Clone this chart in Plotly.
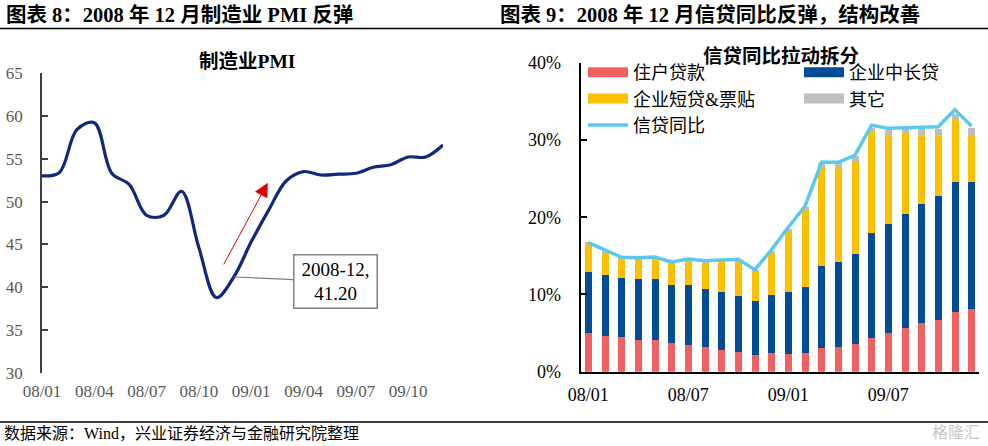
import plotly.graph_objects as go

# ---------------- data ----------------
months = ["08/01", "08/02", "08/03", "08/04", "08/05", "08/06", "08/07", "08/08",
          "08/09", "08/10", "08/11", "08/12", "09/01", "09/02", "09/03", "09/04",
          "09/05", "09/06", "09/07", "09/08", "09/09", "09/10", "09/11", "09/12"]

pmi = [53.0, 53.4, 58.4, 59.2, 53.3, 52.0, 48.4, 48.4, 51.2, 44.6, 38.8, 41.2,
       45.3, 49.0, 52.4, 53.5, 53.1, 53.2, 53.3, 54.0, 54.3, 55.2, 55.2, 56.6]
pmi_ticks = ["08/01", "08/04", "08/07", "08/10", "09/01", "09/04", "09/07", "09/10"]

household = [5.0, 4.6, 4.5, 4.2, 4.1, 3.8, 3.5, 3.2, 2.85, 2.55, 2.2, 2.4,
             2.35, 2.4, 3.05, 3.25, 3.6, 4.35, 5.0, 5.65, 6.3, 6.75, 7.75, 8.1]
corp_long = [7.9, 8.0, 7.7, 7.9, 7.9, 7.5, 7.7, 7.6, 7.5, 7.35, 7.0, 7.6,
             8.0, 8.6, 10.65, 11.05, 11.65, 13.6, 14.1, 14.8, 15.5, 16.05, 16.85, 16.5]
corp_short = [3.75, 2.9, 2.55, 2.5, 2.75, 2.85, 3.2, 3.4, 4.0, 4.5, 3.8, 5.45,
              7.9, 10.0, 12.9, 12.2, 12.05, 13.15, 11.5, 10.3, 8.8, 7.8, 8.1, 6.1]
other = [0.05, 0.1, 0.05, 0.1, 0.1, 0.05, 0.1, 0.1, 0.05, 0.1, 0.1, 0.2,
         0.3, 0.35, 0.4, 0.5, 0.6, 0.5, 0.75, 0.75, 0.9, 0.9, 0.7, 0.9]
credit_yoy = [16.7, 15.8, 14.8, 14.75, 14.85, 14.2, 14.6, 14.35, 14.45, 14.55, 13.2, 15.8,
              18.7, 21.4, 27.1, 27.1, 28.0, 31.9, 31.5, 31.6, 31.65, 31.7, 33.9, 31.8]
credit_ticks = ["08/01", "08/07", "09/01", "09/07"]

# ---------------- helpers ----------------
W, H = 988, 446
def px(x):
    return x / W
def py(y):
    return 1 - y / H

SERIF = "Liberation Serif, Noto Sans CJK SC"
idx = list(range(len(months)))
pos = {m: i for i, m in enumerate(months)}

RED, BLUE, GOLD, GREY, SKY = "#F06262", "#004C97", "#FFC000", "#BFBFBF", "#5BC8F0"

fig = go.Figure()

# left: PMI line
fig.add_trace(go.Scatter(x=idx, y=pmi, mode="lines", xaxis="x", yaxis="y",
                         line=dict(color="#10297F", width=3.2, shape="spline", smoothing=1),
                         showlegend=False, hoverinfo="skip"))

# right: stacked bars
for name, vals, col in [("住户贷款", household, RED), ("企业中长贷", corp_long, BLUE),
                        ("企业短贷&票贴", corp_short, GOLD), ("其它", other, GREY)]:
    fig.add_trace(go.Bar(x=idx, y=vals, name=name, marker=dict(color=col, line=dict(width=0)),
                         width=0.42, xaxis="x2", yaxis="y2", showlegend=False))

fig.add_trace(go.Scatter(x=idx, y=credit_yoy, mode="lines", xaxis="x2", yaxis="y2",
                         line=dict(color=SKY, width=3.5), showlegend=False))

# legend entries (wide swatches)
for name, col, lg, w in [("住户贷款", RED, "legend", 10), ("企业短贷&票贴", GOLD, "legend", 10),
                         ("信贷同比", SKY, "legend", 3.5),
                         ("企业中长贷", BLUE, "legend2", 10), ("其它", GREY, "legend2", 10)]:
    fig.add_trace(go.Scatter(x=[None], y=[None], mode="lines", name=name, legend=lg,
                             line=dict(color=col, width=w), xaxis="x2", yaxis="y2"))

# ---------------- layout ----------------
left_dom_y = [py(373), py(73)]
pos50 = left_dom_y[0] + (50 - 30) / (65 - 30) * (left_dom_y[1] - left_dom_y[0])

fig.update_layout(
    template="none",
    width=W, height=H, margin=dict(l=0, r=0, t=0, b=0, pad=0, autoexpand=False),
    paper_bgcolor="white", plot_bgcolor="white", barmode="stack", bargap=0,
    font=dict(family=SERIF, color="black"),
    xaxis=dict(domain=[px(42), px(443)], range=[0, 23], anchor="y", automargin=False,
               tickvals=[pos[m] for m in pmi_ticks], ticktext=pmi_ticks,
               showline=False, ticks="", showgrid=False, zeroline=False,
               tickfont=dict(size=17, color="#595959", family=SERIF), ticklabelstandoff=6),
    xaxis3=dict(overlaying="x", anchor="free", position=pos50, range=[0, 23], automargin=False,
                showline=True, linecolor="#404040", linewidth=2,
                ticks="inside", ticklen=6, tickwidth=1.5, tickcolor="#404040",
                tickvals=[pos[m] for m in pmi_ticks[1:]], showticklabels=False,
                showgrid=False, zeroline=False),
    yaxis=dict(domain=left_dom_y, range=[30, 65], dtick=5, anchor="x", automargin=False,
               showline=True, linecolor="#404040", linewidth=1.5,
               ticks="inside", ticklen=6, tickwidth=1.5, tickcolor="#404040",
               showgrid=False, zeroline=False,
               tickfont=dict(size=17, color="#595959", family=SERIF), ticklabelstandoff=14),
    xaxis2=dict(domain=[px(580.7), px(979)], range=[-0.46, 23.45], anchor="y2", automargin=False,
                tickvals=[pos[m] for m in credit_ticks], ticktext=credit_ticks,
                showline=True, linecolor="black", linewidth=2, ticks="",
                showgrid=False, zeroline=False,
                tickfont=dict(size=18, color="black", family=SERIF), ticklabelstandoff=6),
    yaxis2=dict(domain=[py(371.7), py(62.7)], range=[0, 40], dtick=10, ticksuffix="%",
                anchor="x2", automargin=False, showline=True, linecolor="black", linewidth=2,
                ticks="inside", ticklen=6, tickwidth=1.5, tickcolor="black",
                showgrid=False, zeroline=False,
                tickfont=dict(size=18, color="black", family=SERIF), ticklabelstandoff=14),
    legend=dict(x=px(583), y=py(54), xanchor="left", yanchor="top", orientation="v",
                bgcolor="rgba(0,0,0,0)", font=dict(size=18, family=SERIF),
                itemwidth=40, tracegroupgap=0, traceorder="normal"),
    legend2=dict(x=px(799), y=py(54), xanchor="left", yanchor="top", orientation="v",
                 bgcolor="rgba(0,0,0,0)", font=dict(size=18, family=SERIF),
                 itemwidth=40, tracegroupgap=0, traceorder="normal"),
)

ann = []
# headers
ann.append(dict(text="<b>图表 8：2008 年 12 月制造业 PMI 反弹</b>", x=px(4), y=py(15),
                xref="paper", yref="paper", xanchor="left", yanchor="middle",
                showarrow=False, font=dict(size=20.5, family=SERIF)))
ann.append(dict(text="<b>图表 9：2008 年 12 月信贷同比反弹，结构改善</b>", x=px(498), y=py(15),
                xref="paper", yref="paper", xanchor="left", yanchor="middle",
                showarrow=False, font=dict(size=20.5, family=SERIF)))
# subplot titles
ann.append(dict(text="<b>制造业PMI</b>", x=px(247), y=py(61), xref="paper", yref="paper",
                xanchor="center", yanchor="middle", showarrow=False,
                font=dict(size=19.5, family=SERIF)))
ann.append(dict(text="<b>信贷同比拉动拆分</b>", x=px(781), y=py(56), xref="paper", yref="paper",
                xanchor="center", yanchor="middle", showarrow=False,
                font=dict(size=19.5, family=SERIF)))
# footer
ann.append(dict(text="数据来源：Wind，兴业证券经济与金融研究院整理", x=px(2), y=py(433),
                xref="paper", yref="paper", xanchor="left", yanchor="middle",
                showarrow=False, font=dict(size=16, family=SERIF)))
ann.append(dict(text="格隆汇", x=px(982), y=py(431), xref="paper", yref="paper",
                xanchor="right", yanchor="middle", showarrow=False,
                font=dict(size=16, family="Noto Sans CJK SC", color="#C8C8C8")))
# red arrow
ann.append(dict(x=12.95, y=52.2, ax=10.38, ay=42.5, xref="x", yref="y", axref="x", ayref="y",
                text="", showarrow=True, arrowhead=2, arrowsize=2.8, arrowwidth=1,
                arrowcolor="#E00000"))
# callout
dec = pos["08/12"]
ann.append(dict(x=dec, y=pmi[dec], xref="x", yref="y", ax=101.7, ay=4.3,
                text="2008-12,<br>41.20", showarrow=True, arrowhead=0, arrowwidth=1.2,
                arrowcolor="#808080", bordercolor="#808080", borderwidth=1.5,
                bgcolor="white", width=76, height=46, borderpad=3,
                font=dict(size=19, family=SERIF, color="black")))
fig.update_layout(annotations=ann)

fig.update_layout(shapes=[
    dict(type="line", xref="paper", yref="paper", x0=0, x1=1, y0=py(28.5), y1=py(28.5),
         line=dict(color="black", width=1.5)),
    dict(type="line", xref="paper", yref="paper", x0=0, x1=1, y0=py(422), y1=py(422),
         line=dict(color="black", width=1.5)),
])

fig.write_html("out.html", config={"displayModeBar": False},
               post_script="document.body.style.margin='0';document.body.style.overflow='hidden';")
